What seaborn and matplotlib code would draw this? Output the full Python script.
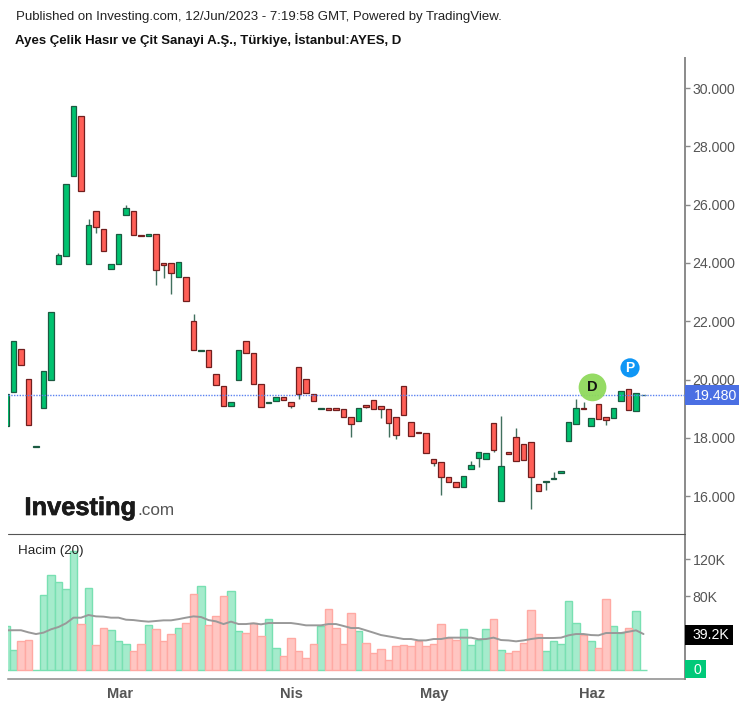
# Candlestick chart with volume pane, seaborn for the volume bars and average
import matplotlib.pyplot as plt
import matplotlib.patheffects as pe
from matplotlib.patches import Rectangle
import seaborn as sns
import pandas as pd

# Daily prices
opens = [18.40, 19.56, 21.04, 20.01, 17.70, 19.01, 19.98, 23.97, 24.24, 26.98,
         29.04, 23.97, 25.78, 25.17, 23.80, 23.97, 25.64, 25.78, 24.97, 24.92,
         25.00, 23.99, 23.99, 23.51, 23.51, 22.01, 20.99, 21.01, 20.20, 19.78,
         19.09, 19.98, 21.32, 20.90, 19.86, 19.20, 19.25, 19.39, 19.23, 20.42,
         20.01, 19.51, 18.99, 19.01, 19.01, 18.98, 18.70, 18.57, 19.14, 19.31,
         19.09, 18.98, 18.70, 19.78, 18.53, 18.20, 18.15, 17.28, 17.16, 16.66,
         16.47, 16.30, 16.94, 17.30, 17.28, 18.50, 15.82, 17.51, 18.02, 17.80,
         17.86, 16.43, 16.47, 16.58, 16.80, 17.89, 18.48, 19.01, 18.39, 19.15,
         18.71, 18.69, 19.26, 19.66, 18.91, 19.46]
closes = [19.49, 21.32, 20.50, 18.44, 17.73, 20.30, 22.31, 24.28, 26.72, 29.38,
          26.47, 25.31, 25.22, 24.40, 23.97, 25.00, 25.87, 24.97, 24.92, 25.00,
          23.76, 23.93, 23.64, 24.02, 22.69, 21.01, 21.01, 20.42, 19.81, 19.09,
          19.22, 21.01, 20.90, 19.86, 19.05, 19.22, 19.39, 19.31, 19.08, 19.51,
          19.55, 19.25, 19.01, 18.97, 18.95, 18.70, 18.48, 19.01, 19.07, 19.00,
          19.00, 18.52, 18.10, 18.78, 18.06, 18.17, 17.49, 17.15, 16.65, 16.47,
          16.30, 16.69, 17.08, 17.50, 17.47, 17.58, 17.04, 17.45, 17.20, 17.25,
          16.65, 16.16, 16.52, 16.61, 16.86, 18.54, 19.01, 18.98, 18.67, 18.66,
          18.61, 19.01, 19.61, 18.95, 19.53, 19.48]
highs = [19.49, 21.32, 21.04, 20.01, 17.73, 20.30, 22.31, 24.34, 26.72, 29.38,
         29.04, 25.50, 25.78, 25.17, 23.97, 25.00, 25.98, 25.78, 24.97, 25.00,
         25.00, 23.99, 23.99, 24.02, 23.51, 22.25, 21.01, 21.01, 20.20, 19.78,
         19.22, 21.01, 21.32, 20.90, 19.86, 19.22, 19.39, 19.39, 19.23, 20.42,
         20.01, 19.51, 19.01, 19.01, 19.01, 18.98, 18.70, 19.01, 19.14, 19.31,
         19.09, 18.98, 18.70, 19.78, 18.53, 18.20, 18.15, 17.28, 17.16, 16.66,
         16.47, 16.69, 17.21, 17.50, 17.47, 18.50, 18.76, 17.51, 18.33, 17.80,
         17.86, 16.43, 16.52, 16.83, 16.86, 18.54, 19.32, 19.24, 18.67, 19.15,
         18.71, 19.01, 19.61, 19.66, 19.53, 19.48]
lows = [18.40, 19.56, 20.50, 18.44, 17.70, 19.01, 19.98, 23.97, 24.24, 26.98,
        26.47, 23.97, 25.04, 24.40, 23.80, 23.97, 25.64, 24.97, 24.92, 24.92,
        23.24, 23.49, 22.94, 23.51, 22.69, 21.01, 20.99, 20.42, 19.81, 19.09,
        19.09, 19.98, 20.90, 19.86, 19.05, 19.20, 19.25, 19.31, 19.03, 19.33,
        19.55, 19.25, 18.99, 18.97, 18.95, 18.70, 18.04, 18.57, 19.03, 19.00,
        18.68, 18.04, 17.96, 18.78, 18.06, 18.17, 17.49, 17.04, 16.04, 16.47,
        16.30, 16.30, 16.94, 17.01, 17.28, 17.52, 15.82, 17.45, 17.20, 17.25,
        15.57, 16.16, 16.21, 16.58, 16.80, 17.89, 18.48, 18.98, 18.39, 18.66,
        18.43, 18.69, 19.26, 18.95, 18.91, 19.46]

# Volume in thousands and its 20 day average
volumes = [47.6, 21.3, 31.0, 32.1, 0.3, 80.7, 102.3, 95.5, 87.6, 128.6,
           49.7, 89.0, 26.7, 45.8, 42.9, 31.0, 28.1, 20.2, 28.1, 48.3,
           44.3, 31.0, 38.9, 45.8, 51.2, 82.2, 90.5, 48.3, 58.0, 79.6,
           85.0, 41.8, 40.4, 51.2, 36.4, 55.1, 24.1, 14.8, 35.0, 20.2,
           13.3, 28.1, 47.2, 65.9, 45.8, 28.1, 62.0, 41.8, 29.5, 18.7,
           22.7, 10.5, 25.6, 26.7, 25.6, 31.0, 25.6, 28.1, 49.7, 35.0,
           32.1, 44.3, 26.7, 32.1, 44.3, 55.1, 21.3, 18.7, 20.2, 29.5,
           64.5, 38.9, 20.2, 31.0, 28.1, 74.2, 51.2, 37.8, 31.0, 24.1,
           76.8, 47.2, 40.4, 45.8, 63.4, 0.3]
volume_avg = [42.9, 43.0, 43.0, 40.7, 38.9, 40.4, 44.0, 46.5, 50.5, 56.6,
              56.6, 59.5, 58.0, 57.7, 56.6, 56.6, 54.4, 54.0, 53.0, 52.3,
              53.0, 53.7, 53.7, 55.0, 56.6, 58.0, 57.3, 54.0, 52.6, 49.7,
              52.3, 49.7, 49.7, 50.5, 49.4, 50.8, 50.8, 50.8, 50.8, 49.7,
              48.3, 48.3, 48.3, 49.7, 49.7, 47.6, 45.4, 45.4, 42.9, 40.4,
              37.8, 36.4, 35.0, 33.5, 33.5, 32.0, 32.0, 33.5, 33.5, 35.0,
              35.0, 35.0, 35.0, 33.2, 33.5, 35.0, 32.4, 32.0, 31.0, 32.0,
              33.5, 34.6, 34.6, 34.6, 35.0, 37.5, 38.9, 38.9, 37.8, 37.5,
              40.0, 40.0, 40.0, 41.4, 42.9, 38.9]

price_ticks = [16, 18, 20, 22, 24, 26, 28, 30]
volume_ticks = [0, 80, 120]
volume_tick_labels = ['', '80K', '120K']
month_ticks = [15.15, 38.1, 57.15, 78.15]
month_labels = ['Mar', 'Nis', 'May', 'Haz']
last_price = 19.48
last_avg = 39.2

W, H = 746, 707
GREY = '#555555'
AXIS = '#8a8a8a'


def box(left, top, right, bottom):
    # pixel box to figure fractions
    return [left / W, 1 - bottom / H, (right - left) / W, (bottom - top) / H]


def flag(left, top, right, bottom, color):
    fig.add_artist(Rectangle((left / W, 1 - bottom / H), (right - left) / W,
                             (bottom - top) / H, transform=fig.transFigure,
                             facecolor=color, edgecolor='none', zorder=5))


df = pd.DataFrame({'day': range(len(opens)), 'open': opens, 'close': closes,
                   'high': highs, 'low': lows, 'volume': volumes, 'avg': volume_avg})
df['dir'] = ['up' if c >= o else 'down' for o, c in zip(df['open'], df['close'])]

sns.set_theme(style='white')
plt.rcParams['font.family'] = ['Liberation Sans', 'DejaVu Sans']

fig = plt.figure(figsize=(W / 100, H / 100), dpi=100)
ax = fig.add_axes(box(8, 58, 685, 534))
ax2 = fig.add_axes(box(8, 535, 685, 679))
xlim = (0.267, 90.53)

# Candles
up = df['dir'] == 'up'
ax.vlines(df['day'], df['low'], df['high'], color='#41705e', linewidth=1, zorder=2)
ax.bar(df['day'][up], (df['close'] - df['open'])[up], bottom=df['open'][up], width=0.68,
       color='#00c26f', edgecolor='#1b5a41', linewidth=0.9, zorder=3)
ax.bar(df['day'][~up], (df['close'] - df['open'])[~up], bottom=df['open'][~up], width=0.68,
       color='#ff5f57', edgecolor='#701f1f', linewidth=0.9, zorder=3)
ax.axhline(last_price, color='#5b82f0', linewidth=1, linestyle=(0, (1, 1)), zorder=4)

ax.set_xlim(xlim)
ax.set_ylim(14.70, 31.03)
ax.set_yticks(price_ticks)
ax.set_yticklabels([f'{t:.3f}' for t in price_ticks])
ax.yaxis.tick_right()
ax.set_xticks([])
ax.tick_params(axis='y', length=3.6, width=1, color=AXIS, labelsize=10.2, labelcolor=GREY, pad=1.8)
for side in ['top', 'left', 'bottom']:
    ax.spines[side].set_visible(False)
ax.spines['right'].set_color(AXIS)
ax.spines['right'].set_linewidth(1.4)

# Dividend and earnings bubbles
ax.scatter([78.2], [19.73], s=400, color='#8fd95c', edgecolor='none', zorder=6, alpha=0.95)
ax.text(78.2, 19.73, 'D', ha='center', va='center', fontsize=10.5, fontweight='bold',
        color='#111111', zorder=7)
ax.scatter([83.2], [20.4], s=190, color='#0f96f5', edgecolor='none', zorder=6)
ax.text(83.2, 20.4, 'P', ha='center', va='center', fontsize=10, fontweight='bold',
        color='white', zorder=7)

# Volume pane
sns.barplot(data=df, x='day', y='volume', hue='dir', native_scale=True, dodge=False,
            palette={'up': '#a5ebcc', 'down': '#ffc6c2'}, width=1, legend=False,
            saturation=1, ax=ax2, zorder=2, linewidth=1)
for patch in ax2.patches:
    is_up = patch.get_facecolor()[1] > 0.85
    patch.set_edgecolor('#78e0b2' if is_up else '#ffa9a3')
sns.lineplot(data=df, x='day', y='avg', color='#999999', linewidth=1.4, ax=ax2, zorder=3)

ax2.set_xlim(xlim)
ax2.set_ylim(-9.73, 146)
ax2.set_yticks(volume_ticks)
ax2.set_yticklabels(volume_tick_labels)
ax2.yaxis.tick_right()
ax2.set_xticks(month_ticks)
ax2.set_xticklabels(month_labels, fontweight='bold', fontsize=10.5, color=GREY)
ax2.set_xlabel('')
ax2.set_ylabel('')
ax2.tick_params(axis='y', length=3.6, width=1, color=AXIS, labelsize=10.2, labelcolor=GREY, pad=1.8)
ax2.tick_params(axis='x', length=2.5, width=1, color=AXIS, pad=3)
for side in ['top', 'left']:
    ax2.spines[side].set_visible(False)
ax2.spines['right'].set_color(AXIS)
ax2.spines['right'].set_linewidth(1.4)
ax2.spines['bottom'].set_color(AXIS)
ax2.spines['bottom'].set_linewidth(1.1)

# Pane separator
fig.add_artist(plt.Line2D([8 / W, 685 / W], [1 - 534 / H] * 2, color='#555555', linewidth=0.8))

# Last value flags on the axis
flag(685, 385, 739, 405, '#4a6fe3')
fig.text(693.5 / W, 1 - 395.5 / H, f'{last_price:.3f}', color='white', fontsize=10.2, va='center', zorder=6)
flag(685, 625, 733, 645, 'black')
fig.text(693 / W, 1 - 635 / H, f'{last_avg}K', color='white', fontsize=10.2, va='center', zorder=6)
flag(685, 660, 706, 678, '#00c979')
fig.text(693 / W, 1 - 669.5 / H, '0', color='white', fontsize=10.2, va='center', zorder=6)

# Header and logo
fig.text(16.5 / W, 1 - 17 / H, 'Published on Investing.com, 12/Jun/2023 - 7:19:58 GMT, Powered by TradingView.',
         fontsize=9.57, color='#222222', va='center')
fig.text(15 / W, 1 - 39.5 / H, 'Ayes Çelik Hasır ve Çit Sanayi A.Ş., Türkiye, İstanbul:AYES, D',
         fontsize=9.56, fontweight='bold', color='#111111', va='center')
fig.text(18 / W, 1 - 551 / H, 'Hacim (20)', fontsize=9.6, color='#222222', va='center', zorder=6)
fig.text(24.5 / W, 1 - 515 / H, 'Investing', fontsize=18.3, fontweight='bold', color='#1a1a1a', va='baseline',
         path_effects=[pe.withStroke(linewidth=0.5, foreground='#1a1a1a')], zorder=6)
fig.text(137 / W, 1 - 515 / H, '.com', fontsize=12.3, color='#555555', va='baseline', zorder=6)

fig.savefig('out.png', dpi=100)
